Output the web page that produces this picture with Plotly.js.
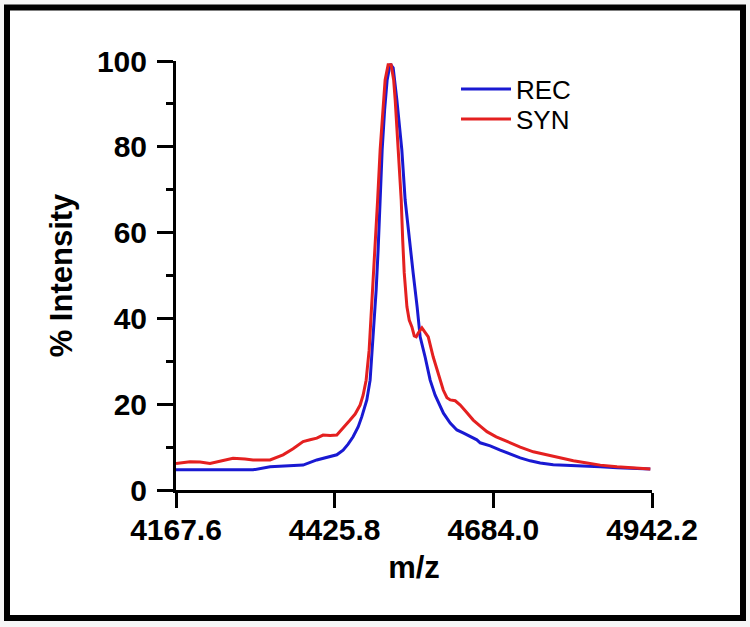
<!DOCTYPE html>
<html>
<head>
<meta charset="utf-8">
<script src="https://cdn.plot.ly/plotly-3.0.1.min.js"></script>
<style>
  html, body { margin: 0; padding: 0; background: #ffffff; }
  #chart { width: 750px; height: 627px; }
</style>
</head>
<body>
<div id="chart"></div>
<script>
// m/z values and % intensity for the recombinant (REC) spectrum
const recX = [4167.6,4206.7,4255.5,4293.0,4320.7,4353.2,4374.4,4396.7,4413.0,4429.3,4439.5,4447.7,4455.8,4464.0,4470.0,4478.1,4483.5,4488.4,4493.3,4496.5,4499.8,4503.1,4507.1,4511.2,4516.1,4521.0,4527.0,4535.1,4540.5,4547.0,4550.3,4553.5,4560.0,4564.9,4573.0,4581.2,4589.3,4597.5,4602.8,4613.8,4624.7,4634.9,4646.3,4657.2,4662.6,4678.9,4695.2,4711.4,4727.7,4744.0,4760.3,4781.5,4803.8,4830.3,4858.0,4885.7,4911.7,4939.4];
const recY = [4.7,4.7,4.7,4.7,5.4,5.7,5.8,7.0,7.6,8.2,9.3,10.7,12.4,14.7,17.1,21.0,25.6,35.0,46.6,55.9,67.6,79.3,88.6,95.6,99.3,98.4,90.9,79.3,67.6,58.3,53.6,50.6,42.7,35.7,31.0,25.6,22.1,19.3,17.9,15.6,14.0,13.3,12.4,11.7,11.0,10.3,9.3,8.4,7.5,6.8,6.3,5.9,5.8,5.6,5.4,5.2,5.1,4.9];

// m/z values and % intensity for the synthetic (SYN) spectrum
const synX = [4167.6,4190.4,4206.7,4222.9,4242.5,4260.4,4279.9,4293.0,4320.7,4341.8,4358.1,4374.4,4385.8,4396.7,4406.9,4418.4,4429.3,4434.6,4442.8,4450.9,4459.1,4467.2,4472.1,4477.0,4481.9,4486.8,4491.7,4495.7,4499.8,4503.9,4507.9,4512.8,4517.7,4521.8,4524.3,4529.2,4534.1,4536.5,4539.0,4543.4,4547.1,4551.5,4555.3,4558.5,4561.8,4567.8,4573.2,4578.1,4586.2,4592.7,4597.6,4602.5,4608.5,4613.9,4622.0,4630.2,4641.1,4651.3,4662.7,4673.6,4688.7,4706.2,4727.8,4749.0,4770.2,4793.0,4814.2,4836.5,4858.1,4885.3,4911.9,4939.5];
const synY = [6.2,6.6,6.5,6.2,6.8,7.4,7.2,7.0,7.0,8.2,9.6,11.3,11.7,12.1,12.8,12.7,12.8,13.6,14.9,16.3,17.7,19.8,22.1,25.6,32.6,44.3,55.9,67.6,79.3,88.6,95.6,99.1,99.1,95.6,90.9,79.3,67.6,58.3,50.6,42.7,39.6,38.0,35.9,35.7,36.6,37.8,36.8,35.7,31.0,28.0,25.6,23.3,21.5,21.0,20.8,19.8,18.0,16.3,14.9,13.6,12.4,11.3,10.0,8.9,8.2,7.5,6.8,6.3,5.8,5.4,5.2,4.9];

const seriesNames = ["REC", "SYN"];
const xTickVals = [4167.6, 4425.8, 4684.0, 4942.2];
const xTickText = ["4167.6", "4425.8", "4684.0", "4942.2"];
const yTickVals = [0, 20, 40, 60, 80, 100];
const xRange = [4167.6, 4942.2];
const yRange = [0, 100];
const xTitle = "m/z";
const yTitle = "% Intensity";

const boldFont = {family: "Liberation Sans, Arial, sans-serif", size: 30, color: "#000000", weight: 700};
const titleFont = {family: "Liberation Sans, Arial, sans-serif", size: 31, color: "#000000", weight: 700};
const legendFont = {family: "Liberation Sans, Arial, sans-serif", size: 26, color: "#000000"};

// REC on the main x axis (ticks + line); SYN on the overlaid x axis that carries
// the tick labels and title (same fixed range, so identical scale)
const traces = [
  {x: recX, y: recY, name: seriesNames[0], type: "scatter", mode: "lines",
   xaxis: "x", yaxis: "y", legend: "legend",
   line: {color: "rgb(25,25,210)", width: 3}},
  {x: synX, y: synY, name: seriesNames[1], type: "scatter", mode: "lines",
   xaxis: "x2", yaxis: "y", legend: "legend2",
   line: {color: "rgb(228,32,32)", width: 3}}
];

// plot-area pixel box, used to place the legends and the outer frame
const L = 176, R = 652, T = 61, B = 490;
function px(x) { return (x - L) / (R - L); }
function py(y) { return (B - y) / (B - T); }

const legendBase = {xanchor: "left", yanchor: "top", bgcolor: "rgba(0,0,0,0)",
  borderwidth: 0, font: legendFont, itemwidth: 50};

const layout = {
  width: 750, height: 627,
  margin: {l: L, r: 750 - R, t: T, b: 627 - B, pad: 0},
  paper_bgcolor: "#f6f6f6",
  plot_bgcolor: "rgba(0,0,0,0)",
  showlegend: true,
  legend: Object.assign({x: px(456), y: py(65.5)}, legendBase),
  legend2: Object.assign({x: px(456), y: py(95.5)}, legendBase),
  xaxis: {
    range: xRange, autorange: false,
    tickmode: "array", tickvals: xTickVals, ticktext: xTickText,
    ticks: "outside", ticklen: 15, tickwidth: 3, tickcolor: "#000000",
    showline: true, linecolor: "#000000", linewidth: 3,
    showgrid: false, zeroline: false, automargin: false,
    showticklabels: false
  },
  xaxis2: {
    overlaying: "x", anchor: "y", side: "bottom",
    range: xRange, autorange: false,
    tickmode: "array", tickvals: xTickVals, ticktext: xTickText,
    ticks: "", showline: false, showgrid: false, zeroline: false, automargin: false,
    tickfont: boldFont, ticklabelstandoff: 19,
    title: {text: xTitle, font: titleFont, standoff: 11}
  },
  yaxis: {
    range: yRange, autorange: false,
    tickmode: "array", tickvals: yTickVals,
    ticks: "outside", ticklen: 16, tickwidth: 3, tickcolor: "#000000",
    minor: {dtick: 10, ticks: "outside", ticklen: 7, tickwidth: 3, tickcolor: "#000000", showgrid: false},
    showline: true, linecolor: "#000000", linewidth: 3,
    showgrid: false, zeroline: false, automargin: false,
    tickfont: boldFont, ticklabelstandoff: 4,
    title: {text: yTitle, font: titleFont, standoff: 16}
  },
  shapes: [
    {type: "rect", xref: "paper", yref: "paper", layer: "below",
     x0: px(7), x1: px(743), y0: py(618), y1: py(7.5),
     line: {color: "#000000", width: 6}, fillcolor: "#ffffff"}
  ]
};

Plotly.newPlot("chart", traces, layout, {displayModeBar: false, staticPlot: true});
</script>
</body>
</html>
